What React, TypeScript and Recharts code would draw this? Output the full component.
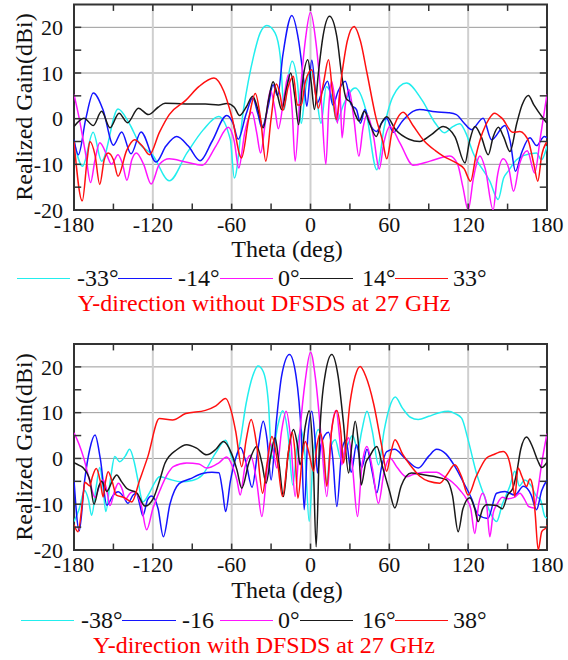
import React from 'react';
import { LineChart, Line, XAxis, YAxis, CartesianGrid, ReferenceLine, ReferenceArea } from 'recharts';

type Pair = [number, number];

const FONT = "'Liberation Serif', Tinos, 'Times New Roman', Times, 'DejaVu Serif', serif";

const X_TICKS = [-180, -120, -60, 0, 60, 120, 180];
const Y_TICKS = [-20, -10, 0, 10, 20];
const MINOR_X = [-150, -120, -90, -60, -30, 0, 30, 60, 90, 120, 150];
const MINOR_Y = [-15, -10, -5, 0, 5, 10, 15, 20];

// ---------- Top panel: Y-direction without DFSDS ----------
const topCyan: Pair[] = [[-180,-5],[-173.5,-10.4],[-165.4,-3],[-159,-9.3],[-146.5,2.1],[-138,-1],[-130,-5.5],[-120,-8],[-107.5,-13.6],[-94,-7.5],[-81.5,-2.4],[-70,0.5],[-61,-4.6],[-58,-13],[-51,2],[-43.4,13.6],[-38.3,18.8],[-33.2,20.4],[-27,18.8],[-23,13.6],[-20,2],[-17.5,8],[-14,12.6],[-10,8],[-7,-1],[-4,6],[0,10.5],[4,6],[8,-1],[12,7],[16,5],[20,-0.6],[25,3],[34,6.7],[42,2],[50.5,-11.2],[56,-2],[63,5],[73,7.8],[85,4],[95,-1],[102,-3.1],[108,-1.8],[113.7,-1.1],[118,-3],[123.8,-7.5],[136.5,-13.7],[142.8,-17.7],[147,-13],[150.5,-11.5],[156.8,-9],[162,-8.1],[172,-7.5],[175.8,-9],[180,-6]];
const topBlue: Pair[] = [[-180,-4.6],[-176.7,-7.9],[-171,0],[-165.3,5.6],[-158,2],[-150,-5.8],[-143.7,-2.9],[-136.6,-7.7],[-129,-2.9],[-117.5,-9.5],[-110,-6],[-101.8,-3.9],[-93,-6],[-84,-9.2],[-75,-5],[-63.7,0.7],[-59,-1],[-55,-4.5],[-49,1],[-44,4.5],[-40,1],[-37,-2],[-32,3],[-28.5,7.4],[-25,5],[-21,14],[-14.2,22.6],[-9,17],[-5,8],[-2.8,2.7],[1,12.8],[5,3.4],[9,6],[13,8.2],[17,3],[21,6],[26.5,8.2],[31,3],[35,2],[38,-1],[41.4,2],[45,-1],[50.3,-2.8],[54,-1],[57.9,0.1],[63,-3],[70,-0.5],[78,1.6],[83,2],[95,1.5],[105,1.3],[111,0.9],[117,-1],[122.5,-2.4],[131.4,0.1],[137.8,-4.6],[148,-1.5],[152,-5],[156,-11.5],[160.6,-7.5],[167,-4.2],[172,-5.9],[178,-3.9],[180,-4.2]];
const topMagenta: Pair[] = [[-180,5.3],[-176,0],[-171,-8],[-167.4,-14],[-164,-9],[-160.4,-5.3],[-155,-8],[-151.5,-10],[-146.5,-7.9],[-143,-10],[-139.7,-13.5],[-136,-9],[-132.6,-7.5],[-127,-10],[-121.3,-14.3],[-115,-10],[-107.5,-8.8],[-95,-9.5],[-82.3,-10.2],[-72,-6],[-62.6,-1.9],[-58,-5],[-54.6,-10.8],[-50,-3],[-44.5,1.4],[-41,-3],[-38,-7.5],[-34,0],[-30.5,6.2],[-27,2],[-24.5,-2.2],[-20,5],[-16.8,9.6],[-14,2],[-11.7,-9.3],[-8,5],[-4,17],[0,23.3],[4,17],[8,5],[11.7,-10],[14,3],[16,8.2],[19,3],[20.5,-1],[22.3,6.4],[24,-4.2],[26.5,3],[29.2,6.4],[33,0],[36.8,-8.2],[40,-2],[43,0.9],[48,-4],[52.3,-11],[56,-5],[60.4,-1.7],[68,-5.3],[78.2,-10.2],[91,-9.3],[106,-8.2],[112,-10],[116,-15],[120,-20],[124,-13],[129,-8.2],[133,-11],[139,-20],[142,-13],[146.7,-8.8],[151,-11],[154.5,-15.9],[159,-10],[165,-7],[170.6,-11.9],[175,-4],[180,5.3]];
const topBlack: Pair[] = [[-180,-1.7],[-172.4,0.1],[-165.3,-1.5],[-159,1.6],[-152.6,-2],[-145.7,1.2],[-139.3,-0.9],[-131,2.3],[-123.4,0.9],[-116,2.5],[-110.7,3.4],[-95,3.2],[-80,3.2],[-70,3],[-63.7,3.3],[-58,2.5],[-54,0.7],[-49,2.5],[-44,4.9],[-40,2],[-36,-2],[-32,4],[-28.5,8.1],[-25,5],[-22,2],[-18,7],[-15,10],[-12,5],[-9,-1.3],[-6,8],[-2,12.9],[0.5,8],[3,2],[6,10],[9.5,18],[14.5,22.4],[20,18],[24,9],[27,4.5],[31,3.4],[34,1],[37,-0.5],[41,1.6],[45,-1],[50,-3.9],[54,-1],[58,0.4],[65,-2.5],[75,-4.5],[83,-5],[92,-3.5],[101,-1.7],[110,-4],[117.6,-9.7],[121,-5],[125.2,-1.7],[130,-4],[135.3,-7.9],[139,-4],[143,-1.9],[147,-4],[151.8,-7.2],[157,-1],[161,3],[165.8,5.1],[170,3],[177,0.1],[180,-1]];
const topRed: Pair[] = [[-180,-5],[-173.7,-18],[-170,-9],[-167.9,-5],[-164,-8],[-160.4,-14.4],[-157,-9],[-154,-7.5],[-150,-9],[-146.5,-12.6],[-140,-7],[-133.9,-4.6],[-128,-6],[-122.6,-7.9],[-115,-3],[-107.5,0.9],[-95,4],[-85,7],[-73.5,8.9],[-66,6],[-59.6,0.1],[-52.5,-8.6],[-47,0],[-42,5.5],[-38,0],[-34,-9.3],[-30,0],[-26,7.6],[-23,5],[-21,1.8],[-17,7],[-13,9.3],[-10,3],[-7,3],[-4,8],[1,10.7],[4,5],[6,2.3],[10,8],[13.7,12.9],[17,5],[19.5,-0.2],[24,10],[28,17],[33.2,20.2],[38,17],[43,10],[50,0],[55,-5],[58,-8.8],[62,-3],[66,0],[70.5,1.4],[78,-1.5],[85.7,-4.6],[95,-7],[101,-8.2],[111,-9.7],[117,-11],[121.8,-13.7],[126,-8],[131,-3],[136,0],[140,1.2],[146,0],[154,-3],[159.4,-2.8],[163,-3.5],[166,-5],[170,-10],[173,-13.7],[176,-8],[180,-5]];

// ---------- Bottom panel: Y-direction with DFSDS ----------
const botCyan: Pair[] = [[-180,-13.8],[-176,-11],[-172,-7],[-169,-9],[-166.6,-12.4],[-163,-6],[-160.4,-2],[-158,-6],[-155.8,-11.6],[-152,-4],[-149,0.4],[-145.2,-0.7],[-141,0.5],[-137.7,2],[-134,-1],[-131.4,-4.7],[-127.6,-9.5],[-122.6,-7.5],[-118,-5],[-115,-4],[-108,-4.5],[-98.6,-5.1],[-90,-4.8],[-82.3,-3.6],[-72.4,1.1],[-64.6,4],[-58.3,-0.7],[-54,3],[-49,12],[-44,18],[-40,20.2],[-36,19],[-32,12],[-29.4,0],[-25,7],[-21.2,10.4],[-17,5],[-13.5,-5.8],[-10,3],[-7.4,6.3],[-4,0],[-1,-13.8],[2,0],[6,6.3],[9,3],[12.4,-5.4],[15,2],[18.8,4.1],[23,0],[27,2],[32,5],[36,2],[39,6],[43,10.3],[47,6],[51.8,-1.4],[56,6],[60,11],[64.5,13.4],[70,11],[76,9],[82,8.5],[90,9.2],[98,10],[104.8,10.3],[110,9.8],[115,8.8],[120,4],[126.3,-3.2],[132,-8],[137,-12],[141.6,-13.8],[146,-10],[151.7,-6.1],[155.5,-2.8],[159,-6],[163,-4.7],[168,-6],[172,-8.3],[175,-9],[178.4,-12.7],[180,-13]];
const botBlue: Pair[] = [[-180,-4.7],[-176,-15.8],[-172,-5],[-168,2],[-164,5.1],[-160,0],[-155,-10.2],[-150,-8],[-146.5,-7.3],[-142,-8.5],[-139,-9.8],[-135,-8],[-132.6,-7.6],[-130,-10],[-127.6,-12.5],[-124,-9],[-121,-8.2],[-116,-11],[-112,-17.1],[-107,-10],[-100,-5.5],[-92,-4.5],[-82.3,-3.3],[-75,-3],[-69.7,-3.1],[-67,-7],[-64.6,-11.6],[-61,-5],[-57,0],[-53.3,2.4],[-49,-1],[-44.5,-6.3],[-40,2],[-36,8.1],[-33,4],[-30,-4.7],[-26,8],[-22,18],[-16,22.7],[-11,18],[-7,5],[-4.8,-11.2],[-2,5],[1,10.3],[4,2],[5.3,-3.2],[8,3],[13.7,5.7],[17,0],[20,-10.5],[24,2],[27,4],[31,-3],[35,3],[39,-2],[43,2],[47,-3],[50.5,-7.5],[54,-2],[58,1.5],[64,2],[72,0],[82,-2.1],[90,0.5],[96,2],[103,1],[110,-1.8],[116,-5],[122.5,-8.7],[127.6,-12.3],[135,-13.1],[141.6,-7.6],[148,-7.2],[155.5,-8],[162,-6.1],[168,-8],[172,-11.2],[176,-7],[180,-4.7]];
const botMagenta: Pair[] = [[-180,5.6],[-176,3],[-172.9,0.4],[-168,-5],[-164,-8.5],[-160,-5.5],[-157.7,-4.7],[-155,-7],[-152.6,-10.3],[-149,-7],[-146.2,-5.4],[-143,-7],[-141.2,-9],[-137,-7.5],[-133.6,-7.2],[-129,-10],[-124.7,-15.6],[-120,-11],[-114.5,-6.9],[-109,-3.5],[-104.4,-1.8],[-94.2,-1],[-85,-1.2],[-79,-2.1],[-70,-1],[-63.8,0.3],[-59,-2],[-56,-4.7],[-53.5,-8],[-50,-2],[-45.7,0.7],[-41,-5],[-37,-12.7],[-33,-2],[-30.7,3.4],[-28,1],[-25.6,-2.1],[-22,6],[-18.5,10.3],[-15,4],[-11.7,-8.3],[-8,6],[-4,17],[0,23.2],[4,17],[8,5],[12.4,-8.3],[16,6],[19.5,10.5],[22,5],[23.9,-1.4],[26,2],[29,4.5],[32,-2],[35.8,-12.7],[39,-2],[43,2.6],[47,-2],[51.7,-9.8],[56,-3],[60.4,0.1],[66,-2],[73,-4],[78,-3.5],[88,-3],[96,-3],[102,-4],[108,-5.2],[114,-7],[119,-9],[122,-11],[125,-16.4],[128,-10],[131,-7.6],[134,-10],[136.5,-17.1],[139,-12],[142,-10],[146,-8.5],[150,-8.8],[155,-8.5],[159.4,-7.6],[163,-9],[166,-10.5],[170,-10.8],[173,-7],[176,-1],[180,5.4]];
const botBlack: Pair[] = [[-180,-0.9],[-176,-1.5],[-172.9,-2.1],[-168,-4.7],[-164.8,-10],[-161,-6],[-159,-5],[-155,-7.2],[-151,-5],[-147.5,-3.6],[-144,-5],[-140,-6.5],[-132,-7.6],[-126,-10.4],[-119.6,-8.7],[-115,-5],[-110.7,-1],[-101.8,1.9],[-94.2,3],[-87,2.3],[-79,0.8],[-72,2],[-66.3,3.7],[-60,1],[-56,-2.5],[-52.3,-6.5],[-47,-1],[-40.9,2.6],[-37,-1],[-33.8,-5.4],[-30,1],[-27,4.5],[-24,-1],[-20.6,-8.3],[-17,1],[-13,6.3],[-10,3],[-7.9,-1.4],[-4,7],[-1,10.4],[2,0],[4.3,-19.3],[7,5],[11,18],[16.2,22.7],[21,18],[25,8],[29,-3.2],[31.5,3],[34,8.1],[36.5,3],[38.6,-5.8],[42,-1],[45,0.5],[50.5,2.6],[55,-2],[60,-7],[64.2,-10.8],[69,-6],[76.8,-3.2],[85,-3.5],[93.4,-3.9],[103.5,-4.7],[108,-8],[112.4,-16],[116,-11],[121.3,-8.6],[125,-11],[127.6,-13.8],[131,-11],[134,-10.1],[141.6,-10.3],[146,-11],[150,-8],[154,-6.5],[157,-3],[160,2],[164.5,4.7],[169,2.5],[173,-0.5],[176,-2],[180,-0.8]];
const botRed: Pair[] = [[-180,-14.5],[-177,-16],[-173,-8],[-171.7,-5.2],[-168,-6],[-166,-4],[-163,-2.2],[-160,-5],[-157.8,-8.4],[-156,-5],[-154,-2.9],[-151,-5],[-147.8,-8],[-142,-8.5],[-136,-9.5],[-130,-4.7],[-123.8,0.4],[-115,8.7],[-105,8.4],[-95,9.8],[-80,10.5],[-72,11.5],[-64.6,13.1],[-60,10],[-57,6],[-52.3,-1.8],[-49,4],[-45.2,8.5],[-41,3],[-36.5,-7.6],[-33,-1],[-29.4,4.8],[-25,-1],[-21.3,-8.3],[-17,1],[-14.2,5.7],[-12,2],[-9.6,-8.7],[-6,1],[-4,3.7],[-1,1],[2.3,-2.8],[5,3],[7.4,5.5],[10,2],[12.4,-6.1],[16,6],[20,10.5],[23,6],[25.1,-1],[30,12],[34,18],[37.8,20.1],[42,18],[48,12],[54,3],[58,-2.8],[61,1],[64.3,4.1],[70,1],[76,-1.5],[83.2,-3.9],[90,-5],[98.4,-5.4],[104,-3.5],[109.8,-1.4],[115,-4],[120,-8],[126,-4],[134,0.1],[139,0.8],[146.6,1.5],[150,0.5],[153,-3],[155.5,-8.3],[158,-2.1],[161,-4],[164.4,-6.1],[167,-4.5],[169,-6],[171,-12],[173.3,-20],[176,-16],[179.6,-15],[180,-14.6]];

const COLORS = ['#22EEEE', '#1414FF', '#FF14FF', '#1a1a1a', '#FF1010'];
const topLabels = ['-33°', '-14°', '0°', '14°', '33°'];
const botLabels = ['-38°', '-16', '0°', '16°', '38°'];

const toRows = (pts: Pair[]) => pts.map(([t, g]) => ({ t, g }));

const tickStyle = { fontSize: 22, fill: '#111', fontFamily: FONT };

function Panel({ top, marginTop, series }: { top: number; marginTop: number; series: Pair[][] }) {
  return (
    <div style={{ position: 'absolute', left: 0, top, fontFamily: FONT }}>
      <LineChart width={568} height={250} margin={{ top: marginTop, right: 21, left: 14, bottom: 10 }} style={{ fontFamily: FONT }}>
        <CartesianGrid vertical={false} stroke="#9a9a9a" strokeWidth={1} />
        <CartesianGrid horizontal={false} stroke="#cfcfcf" strokeWidth={2} />
        <XAxis type="number" dataKey="t" domain={[-180, 180]} ticks={X_TICKS} interval={0} allowDataOverflow
          tickLine={false} axisLine={false} tickMargin={0} height={30} tick={tickStyle} />
        <YAxis type="number" domain={[-20, 25]} ticks={Y_TICKS} interval={0} allowDataOverflow
          tickLine={false} axisLine={false} width={60} tickMargin={5} tick={tickStyle} />
        {series.map((s, i) => (
          <Line key={i} data={toRows(s)} dataKey="g" type="monotone" stroke={COLORS[i]} strokeWidth={1.5}
            dot={false} activeDot={false} isAnimationActive={false} />
        ))}
        {MINOR_X.map((x) => (
          <ReferenceLine key={'xb' + x} segment={[{ x, y: -20 }, { x, y: -18.6 }]} stroke="#333" strokeWidth={1.5} />
        ))}
        {MINOR_X.map((x) => (
          <ReferenceLine key={'xt' + x} segment={[{ x, y: 25 }, { x, y: 23.6 }]} stroke="#333" strokeWidth={1.5} />
        ))}
        {MINOR_Y.map((y) => (
          <ReferenceLine key={'yl' + y} segment={[{ x: -180, y }, { x: -174.5, y }]} stroke="#333" strokeWidth={1.5} />
        ))}
        {MINOR_Y.map((y) => (
          <ReferenceLine key={'yr' + y} segment={[{ x: 180, y }, { x: 174.5, y }]} stroke="#333" strokeWidth={1.5} />
        ))}
        <ReferenceArea x1={-180} x2={180} y1={-20} y2={25} fill="none" stroke="#333" strokeWidth={2} ifOverflow="visible" />
      </LineChart>
    </div>
  );
}

function Legend({ top, labels, lineXs, textXs }: { top: number; labels: string[]; lineXs: number[][]; textXs: number[] }) {
  return (
    <>
      {labels.map((lab, i) => (
        <React.Fragment key={i}>
          <div style={{ position: 'absolute', left: lineXs[i][0], top: top + 12, width: lineXs[i][1] - lineXs[i][0], height: 0, borderTop: `1.5px solid ${COLORS[i]}` }} />
          <div style={{ position: 'absolute', left: textXs[i], top, fontFamily: FONT, fontSize: 24, lineHeight: '24px', color: '#111', whiteSpace: 'nowrap' }}>{lab}</div>
        </React.Fragment>
      ))}
    </>
  );
}

const textCommon: React.CSSProperties = { position: 'absolute', fontFamily: FONT, fontSize: 24, lineHeight: '24px', whiteSpace: 'nowrap', textAlign: 'center' };

export default function App() {
  return (
    <div style={{ position: 'absolute', left: 0, top: 0, width: 568, height: 660, background: '#fff', overflow: 'hidden', fontFamily: FONT }}>
      <Panel top={0} marginTop={4.5} series={[topCyan, topBlue, topMagenta, topBlack, topRed]} />
      <Panel top={340} marginTop={4} series={[botCyan, botBlue, botMagenta, botBlack, botRed]} />

      <div style={{ ...textCommon, left: 24 - 120, top: 107 - 12, width: 240, transform: 'rotate(-90deg)', color: '#111' }}>Realized Gain(dBi)</div>
      <div style={{ ...textCommon, left: 24 - 120, top: 447 - 12, width: 240, transform: 'rotate(-90deg)', color: '#111' }}>Realized Gain(dBi)</div>

      <div style={{ ...textCommon, left: 0, top: 237, width: 574, color: '#111' }}>Theta (deg)</div>
      <div style={{ ...textCommon, left: 0, top: 578, width: 574, color: '#111' }}>Theta (deg)</div>

      <Legend top={266} labels={topLabels} lineXs={[[17, 70], [118, 172], [220, 273], [300, 353], [395, 448]]} textXs={[77, 178, 278, 362, 453]} />
      <Legend top={608} labels={botLabels} lineXs={[[21, 74], [122, 176], [220, 273], [300, 353], [395, 448]]} textXs={[81, 182, 278, 362, 453]} />

      <div style={{ ...textCommon, left: 0, top: 291, width: 528, color: '#FF0000' }}>Y-direction without DFSDS at 27 GHz</div>
      <div style={{ ...textCommon, left: 0, top: 633, width: 528, color: '#FF0000' }}>Y-direction with DFSDS at 27 GHz</div>
    </div>
  );
}
